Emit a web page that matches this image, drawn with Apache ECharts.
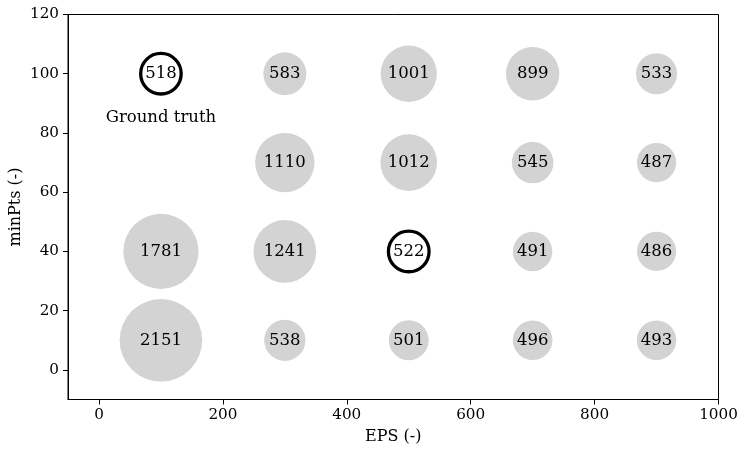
<!DOCTYPE html>
<html><head><meta charset="utf-8">
<script src="https://cdn.jsdelivr.net/npm/echarts@6/dist/echarts.min.js"></script>
<style>html,body{margin:0;padding:0;background:#fff}#c{width:738px;height:450px}</style>
</head><body><div id="c"></div>
<script>
const eps = [100,300,500,700,900, 300,500,700,900, 100,300,500,700,900, 100,300,500,700,900];
const minPts = [100,100,100,100,100, 70,70,70,70, 40,40,40,40,40, 10,10,10,10,10];
const counts = [518,583,1001,899,533, 1110,1012,545,487, 1781,1241,522,491,486, 2151,538,501,496,493];
const highlighted = [0, 11];
const annotationText = 'Ground truth';
const annotationPos = [100, 85];
const xTicks = [0,200,400,600,800,1000];
const yTicks = [0,20,40,60,80,100,120];

const font = 'DejaVu Serif';
const gray = [], outlined = [];
counts.forEach((v,i)=>{
  const p = [eps[i], minPts[i], v];
  if (highlighted.includes(i)) outlined.push(p); else gray.push(p);
});
const sizeOf = v => 1.78*Math.sqrt(v[2]);
const lbl = {show:true, position:'inside', formatter:p=>String(p.value[2]), color:'#000', fontFamily:font, fontSize:16.5};

const chart = echarts.init(document.getElementById('c'), null, {renderer:'canvas'});
chart.setOption({
  animation:false,
  grid:{left:68, right:19.5, top:14.5, bottom:50.5, outerBoundsMode:'none', containLabel:false, show:true, borderColor:'#000', borderWidth:1, backgroundColor:'transparent'},
  xAxis:{type:'value', min:-50, max:1000, interval:200,
    name:'EPS (-)', nameLocation:'middle', nameGap:29, nameMoveOverlap:false, nameTextStyle:{fontFamily:font, fontSize:16, color:'#000'},
    axisLine:{show:true, onZero:false, lineStyle:{color:'#000'}},
    axisTick:{show:true, length:5, lineStyle:{color:'#000'}, customValues:xTicks},
    axisLabel:{color:'#000', fontFamily:font, fontSize:15.2, margin:8, customValues:xTicks, formatter:v=>String(v)},
    splitLine:{show:false}},
  yAxis:{type:'value', min:-10, max:120, interval:20,
    name:'minPts (-)', nameLocation:'middle', nameGap:44, nameMoveOverlap:false, nameTextStyle:{fontFamily:font, fontSize:16, color:'#000'},
    axisLine:{show:true, onZero:false, lineStyle:{color:'#000'}},
    axisTick:{show:true, length:5, lineStyle:{color:'#000'}, customValues:yTicks},
    axisLabel:{color:'#000', fontFamily:font, fontSize:15.2, margin:9, customValues:yTicks, formatter:v=>String(v)},
    splitLine:{show:false}},
  series:[
    {type:'scatter', data:gray, symbolSize:sizeOf, itemStyle:{color:'#d3d3d3', opacity:1}, label:lbl},
    {type:'scatter', data:outlined, symbolSize:sizeOf, itemStyle:{color:'#fff', borderColor:'#000', borderWidth:3.3, opacity:1}, label:lbl},
    {type:'scatter', data:[annotationPos], symbolSize:0, silent:true,
      label:{show:true, position:'inside', formatter:annotationText, color:'#000', opacity:1, fontFamily:font, fontSize:16.5}}
  ]
});
</script></body></html>
